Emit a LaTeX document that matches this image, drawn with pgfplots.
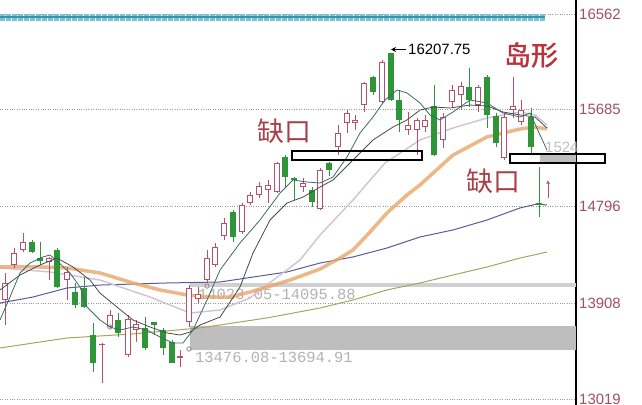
\documentclass[border=0pt]{standalone}
\usepackage{fontspec}
\setmainfont{Liberation Sans}
\newfontfamily\cjk{Noto Sans CJK SC}
\newfontfamily\cjkb[FakeBold=1.6]{Noto Sans CJK SC}
\newfontfamily\monof{Liberation Mono}
\usepackage{pgfplots}
\usepackage{pgfplotstable}
\pgfplotsset{compat=1.18}
\usetikzlibrary{arrows.meta}
\definecolor{upc}{HTML}{B8506C}
\definecolor{dnc}{HTML}{2E9638}
\definecolor{tickc}{HTML}{A05060}
\definecolor{ma5}{HTML}{3D6B64}
\definecolor{ma10}{HTML}{4A4A4A}
\definecolor{maor}{HTML}{E8A56A}
\definecolor{manavy}{HTML}{5A5A9C}
\definecolor{maolive}{HTML}{A8A460}
\definecolor{malav}{HTML}{D2C0D8}
\definecolor{gapA}{HTML}{BEBEBE}
\definecolor{gapB}{HTML}{D0D0D0}
\definecolor{bandout}{HTML}{7CC4D4}
\definecolor{bandin}{HTML}{3596B0}
\definecolor{labred}{HTML}{A8404A}
\definecolor{islred}{HTML}{B8343C}

\pgfplotsset{
  candle/.style 2 args={only marks, mark=*, mark size=0pt, mark options={draw opacity=0, fill opacity=0}, forget plot,
    error bars/.cd, y dir=plus, y explicit, error mark=none, error bar style={line width=#1, color=#2, line cap=butt}},
}

\pgfplotstableread{
x o h l c
5 13936 14184 13706 14092
14 14257 14413 14230 14367
23 14395 14551 14376 14468
49 14285 14331 14119 14321
67 14119 14239 13936 14193
102 13522 13541 13174 13536
110 13688 13844 13679 13798
128 13431 13798 13412 13761
136 13660 13752 13550 13715
180 13403 13477 13320 13417
189 13734 14073 13688 14046
198 13945 14055 13908 13991
207 14119 14395 14092 14321
215 14257 14459 14239 14422
224 14523 14689 14487 14643
242 14560 14826 14542 14808
250 14826 14928 14808 14900
259 14900 15019 14872 14983
268 14946 15038 14826 14992
277 14928 15203 14918 15194
303 14973 15056 14928 15010
320 14771 15148 14762 15130
338 15341 15543 15267 15469
347 15561 15680 15469 15653
355 15561 15635 15497 15589
364 15726 15938 15662 15928
382 15754 16140 15745 16121
408 15497 15662 15451 15543
417 15497 15607 15267 15589
425 15524 15635 15478 15589
443 15405 15653 15332 15616
452 15754 15910 15699 15864
461 15818 15938 15680 15901
478 15726 15910 15662 15892
504 15240 15653 15221 15616
513 15680 15984 15607 15717
521 15570 15772 15543 15680
}\uptab

\pgfplotstableread{
x o h l c
32 14468 14487 14367 14376
40 14321 14468 14257 14294
57 14395 14413 14046 14055
75 14009 14092 13862 13890
84 14046 14147 13862 13871
93 13614 13725 13275 13357
118 13752 13816 13596 13633
145 13679 13780 13477 13495
154 13734 13734 13614 13706
163 13660 13679 13431 13495
172 13550 13568 13357 13357
233 14744 14762 14468 14514
285 15249 15267 14964 15065
294 15056 15065 14854 15038
312 14946 14973 14790 14836
329 15194 15203 15074 15130
373 15984 15993 15818 15846
391 16200 16207.75 15763 15772
399 15772 15864 15478 15589
434 15717 15910 15260 15267
469 15892 16066 15708 15772
487 15984 16002 15515 15635
496 15625 15653 15341 15377
531 15616 15699 15267 15341
539 14826 15157 14698 14808
}\dntab

\begin{document}
\begin{tikzpicture}
\begin{axis}[
  scale only axis, width=576bp, height=405bp,
  xmin=0, xmax=576, ymin=12971.5, ymax=16690.6,
  axis x line=none,
  axis y line*=right,
  axis line style={black, line width=1.2bp},
  ytick={16562,15685,14796,13908,13019},
  yticklabels={16562,15685,14796,13908,13019},
  major tick length=0pt,
  yticklabel style={font=\fontsize{15}{15}\selectfont, text=tickc, inner sep=0pt, xshift=3bp},
  ymajorgrids,
  grid style={dotted, color=black!40, line width=0.7bp},
  clip=false,
]
% top decorative band
\addplot[bandout, line width=7bp, dash pattern=on 4.5bp off 1.5bp, forget plot] coordinates {(0,16534) (545,16534)};
\addplot[bandin, line width=2.5bp, forget plot] coordinates {(0,16534) (545,16534)};

% gap zones
\addplot[fill=gapA, draw=none, forget plot] coordinates {(190,13476.08) (576,13476.08) (576,13694.91) (190,13694.91)} -- cycle;
\addplot[fill=gapB, draw=none, forget plot] coordinates {(190,14055) (576,14055) (576,14095.88) (190,14095.88)} -- cycle;
\addplot[fill=gapA, draw=none, forget plot] coordinates {(540,15194) (576,15194) (576,15276) (540,15276)} -- cycle;

\node[anchor=west, text=black!30, font=\monof\fontsize{15.5}{15.5}\selectfont, inner sep=0pt] at (axis cs:195,13412) {13476.08-13694.91};
\node[anchor=west, text=black!30, font=\monof\fontsize{15.5}{15.5}\selectfont, inner sep=0pt] at (axis cs:198,13991) {14023.05-14095.88};
\node[anchor=west, text=black!25, font=\fontsize{15}{15}\selectfont, inner sep=0pt] at (axis cs:545,15341) {1524};

% moving averages (slow)
\addplot[maolive, line width=1bp] coordinates {(0,13495) (67,13587) (133,13624) (200,13679) (267,13771) (320,13862) (353,13936) (387,14028) (420,14092) (453,14165) (487,14239) (520,14321) (547,14376)};
\addplot[manavy, line width=1bp] coordinates {(0,13908) (33,13963) (67,14046) (100,14073) (167,14092) (220,14101) (287,14193) (320,14275) (353,14331) (387,14413) (420,14514) (453,14579) (487,14670) (520,14781) (537,14817) (547,14808)};
\addplot[malav, line width=1.4bp] coordinates {(0,14230) (50,14193) (100,14119) (150,13963) (190,13816) (220,13844) (250,13954) (280,14165) (300,14303) (320,14532) (353,14854) (385,15194) (420,15405) (453,15515) (487,15607) (520,15662) (535,15635) (547,15543)};
\addplot[maor, line width=3.5bp, opacity=0.8] coordinates {(0,14239) (40,14239) (67,14230) (100,14184) (133,14092) (160,14028) (187,13982) (210,13963) (230,13963) (250,14009) (267,14055) (290,14119) (320,14220) (340,14321) (353,14395) (370,14560) (387,14735) (407,14900) (420,14992) (453,15267) (487,15433) (520,15506) (535,15524) (547,15506)};

% wicks
\addplot[candle={1bp}{upc}] table[x=x, y=l, y error expr=\thisrow{h}-\thisrow{l}] \uptab;
\addplot[candle={1bp}{dnc}] table[x=x, y=l, y error expr=\thisrow{h}-\thisrow{l}] \dntab;
% bodies
\addplot[candle={6.5bp}{upc}] table[x=x, y=o, y error expr=\thisrow{c}-\thisrow{o}] \uptab;
\addplot[candle={4.5bp}{white}] table[x=x, y expr=\thisrow{o}+9, y error expr={max(\thisrow{c}-\thisrow{o}-18,0)}] \uptab;
\addplot[candle={6.5bp}{dnc}] table[x=x, y=c, y error expr=\thisrow{o}-\thisrow{c}] \dntab;

% fast moving averages
\addplot[ma10, line width=0.8bp] coordinates {(0,14028) (20,14165) (40,14257) (57,14321) (73,14239) (90,14119) (100,13999) (117,13871) (133,13752) (150,13688) (167,13633) (180,13614) (190,13642) (200,13706) (220,13779) (240,14055) (253,14367) (270,14670) (287,14826) (303,14881) (320,14973) (333,15038) (353,15221) (373,15405) (393,15524) (407,15589) (420,15680) (433,15708) (450,15699) (470,15726) (487,15717) (503,15662) (520,15635) (535,15616) (547,15515)};
\addplot[ma5, line width=0.8bp] coordinates {(0,13752) (10,13963) (20,14184) (30,14275) (43,14331) (50,14349) (58,14285) (70,14184) (80,14055) (87,13871) (100,13752) (110,13688) (120,13660) (133,13688) (147,13660) (160,13596) (173,13541) (183,13541) (193,13660) (207,13936) (220,14211) (240,14459) (260,14670) (280,14918) (293,15038) (307,15019) (320,15010) (333,15065) (347,15249) (360,15469) (373,15616) (385,15772) (397,15864) (407,15837) (420,15745) (430,15635) (440,15589) (453,15662) (470,15772) (487,15745) (503,15653) (520,15616) (530,15653) (540,15451) (547,15313)};
\addplot[only marks, mark=o, mark size=2.2bp, black!45, mark options={line width=0.8bp}] coordinates {(110,13688) (189,13486) (207,14064)};

% gap boxes
\addplot[draw=black, line width=2bp, forget plot] coordinates {(292,15221) (422,15221) (422,15304) (292,15304)} -- cycle;
\addplot[draw=black, line width=2bp, forget plot] coordinates {(510,15194) (605,15194) (605,15276) (510,15276)} -- cycle;

% annotations
\addplot[black, line width=1bp, -{Stealth[length=5bp,width=5bp]}] coordinates {(406,16236) (391,16236)};
\node[anchor=west, font=\fontsize{15}{15}\selectfont, inner sep=0pt] at (axis cs:408,16236) {16207.75};
\addplot[labred!90, line width=1bp, -{Stealth[length=4bp,width=4bp]}] coordinates {(548,14872) (548,15035)};
\node[text=labred, font=\cjk\fontsize{27}{27}\selectfont, inner sep=0pt] at (axis cs:284,15488) {缺口};
\node[text=labred, font=\cjk\fontsize{27}{27}\selectfont, inner sep=0pt] at (axis cs:493,15029) {缺口};
\node[text=islred, font=\cjkb\fontsize{27}{27}\selectfont, inner sep=0pt] at (axis cs:531,16186) {岛形};
\end{axis}
\pgfresetboundingbox
\useasboundingbox (0,0) rectangle (642bp,405bp);
\end{tikzpicture}
\end{document}
